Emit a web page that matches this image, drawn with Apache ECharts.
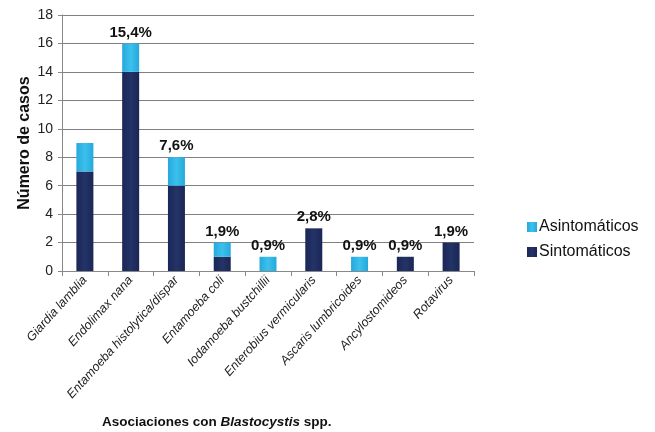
<!DOCTYPE html>
<html>
<head>
<meta charset="utf-8">
<script src="https://cdn.jsdelivr.net/npm/echarts@6/dist/echarts.min.js"></script>
<style>
  html, body { margin: 0; padding: 0; background: #fff; }
  #chart { width: 655px; height: 432px; }
</style>
</head>
<body>
<div id="chart"></div>
<script>
// data
const categories = ['Giardia lamblia', 'Endolimax nana', 'Entamoeba histolytica/dispar', 'Entamoeba coli',
  'Iodamoeba bustchillii', 'Enterobius vermicularis', 'Ascaris lumbricoides', 'Ancylostomideos', 'Rotavirus'];
const sintomaticos = [7, 14, 6, 1, 0, 3, 0, 1, 2];
const asintomaticos = [2, 2, 2, 1, 1, 0, 1, 0, 0];
const percentLabels = ['', '15,4%', '7,6%', '1,9%', '0,9%', '2,8%', '0,9%', '0,9%', '1,9%'];
const yTicks = { min: 0, max: 18, interval: 2 };

const totals = sintomaticos.map((v, i) => v + asintomaticos[i]);

const darkBlue = new echarts.graphic.LinearGradient(0, 0, 1, 0, [
  { offset: 0, color: '#1a2656' }, { offset: 0.5, color: '#243466' }, { offset: 1, color: '#1a2656' }
]);
const lightBlue = new echarts.graphic.LinearGradient(0, 0, 1, 0, [
  { offset: 0, color: '#25a9dc' }, { offset: 0.5, color: '#3cc0ec' }, { offset: 1, color: '#25a9dc' }
]);

const chart = echarts.init(document.getElementById('chart'));
chart.setOption({
  animation: false,
  textStyle: { fontFamily: 'Liberation Sans, Arial, sans-serif' },
  title: {
    text: '{a|Asociaciones con }{b|Blastocystis}{a| spp.}',
    left: 97,
    top: 410,
    textStyle: {
      rich: {
        a: { fontSize: 13.5, fontWeight: 'bold', color: '#111', fontFamily: 'Liberation Sans' },
        b: { fontSize: 13.5, fontWeight: 'bold', fontStyle: 'italic', color: '#111', fontFamily: 'Liberation Sans' }
      }
    }
  },
  legend: {
    orient: 'vertical',
    left: 522,
    top: 214,
    itemWidth: 10,
    itemHeight: 10,
    itemGap: 9,
    icon: 'rect',
    data: ['Asintomáticos', 'Sintomáticos'],
    textStyle: { fontSize: 16, color: '#111', padding: [0, 0, 0, -3] }
  },
  grid: { left: 62, right: 181, top: 15, bottom: 161 },
  xAxis: {
    type: 'category',
    data: categories,
    axisLine: { lineStyle: { color: '#888' } },
    axisTick: { show: true, length: 5, lineStyle: { color: '#888' } },
    axisLabel: {
      rotate: 48,
      interval: 0,
      fontSize: 12.5,
      fontStyle: 'italic',
      color: '#222',
      margin: 7
    }
  },
  yAxis: {
    type: 'value',
    min: yTicks.min,
    max: yTicks.max,
    interval: yTicks.interval,
    name: 'Número de casos',
    nameLocation: 'middle',
    nameGap: 29,
    nameMoveOverlap: false,
    nameTextStyle: { fontSize: 16, fontWeight: 'bold', color: '#111' },
    axisLine: { show: true, lineStyle: { color: '#888' } },
    axisTick: { show: true, length: 4, lineStyle: { color: '#888' } },
    axisLabel: { fontSize: 14, color: '#222', margin: 9 },
    splitLine: { lineStyle: { color: '#808080', width: 1 } }
  },
  series: [
    {
      name: 'Sintomáticos',
      type: 'bar',
      stack: 'casos',
      barWidth: 17,
      color: '#1f2c5e',
      itemStyle: { color: darkBlue },
      data: sintomaticos
    },
    {
      name: 'Asintomáticos',
      type: 'bar',
      stack: 'casos',
      barWidth: 17,
      color: '#2db3e6',
      itemStyle: { color: lightBlue },
      data: asintomaticos
    },
    {
      name: 'pct',
      type: 'line',
      data: totals,
      symbol: 'rect',
      symbolSize: 1,
      showSymbol: true,
      lineStyle: { width: 0, color: 'rgba(0,0,0,0)' },
      itemStyle: { color: 'rgba(0,0,0,0)' },
      silent: true,
      label: {
        show: true,
        position: 'top',
        distance: 3,
        fontSize: 15,
        fontWeight: 'bold',
        color: '#111',
        formatter: p => percentLabels[p.dataIndex]
      }
    }
  ]
});
</script>
</body>
</html>
